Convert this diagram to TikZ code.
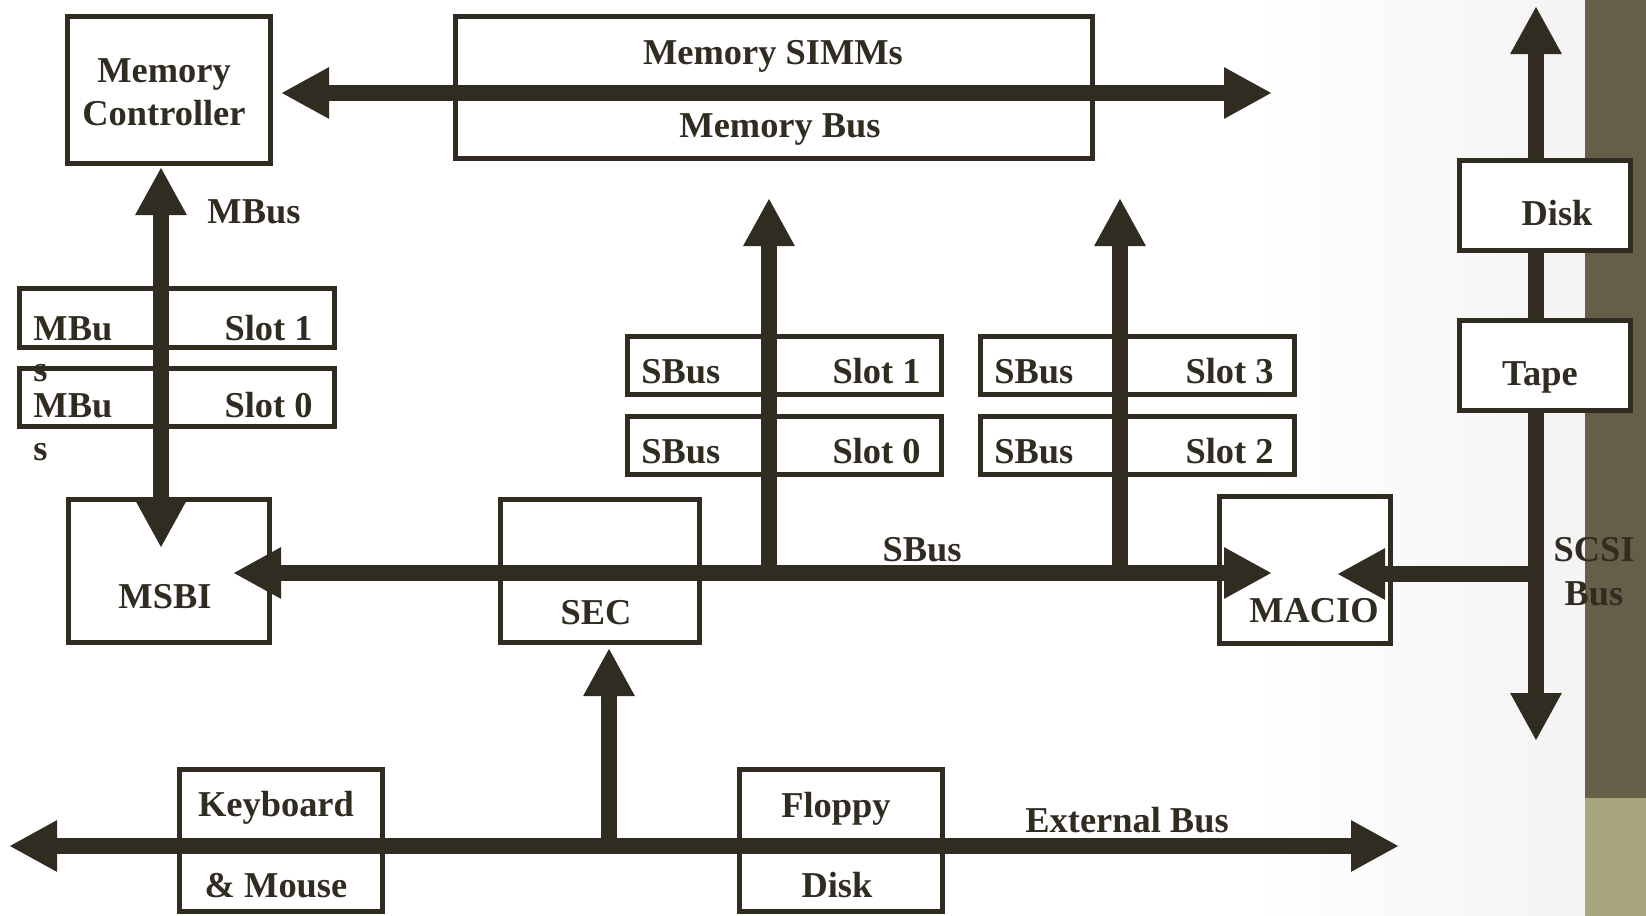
\documentclass[tikz,border=0pt]{standalone}
\usepackage{fontspec}
\setmainfont{Liberation Serif}
\usepackage{tikz}
\usetikzlibrary{arrows.meta}

\definecolor{ink}{RGB}{48,44,33}
\definecolor{barbrown}{RGB}{102,94,72}
\definecolor{barolive}{RGB}{168,166,126}

\tikzset{
	unit/.style 2 args={draw=ink, line width=2.5pt, fill=white, inner sep=0pt,
		minimum width=#1, minimum height=#2},
	txt/.style={text=ink, inner sep=0pt, font=\fontsize{18.2}{22}\selectfont\bfseries},
	bus/.style={draw=ink, line width=8pt, -{Triangle[width=24pt,length=24pt]}},
	bibus/.style={draw=ink, line width=8pt,
		{Triangle[width=24pt,length=24pt]}-{Triangle[width=24pt,length=24pt]}},
}

\begin{document}
\begin{tikzpicture}[x=0.5pt,y=-0.5pt]
	
	% page: white, soft grey towards the right, coloured side bar
	\useasboundingbox (0,0) rectangle (1646,916);
	\fill[white] (0,0) rectangle (1646,916);
	\shade[left color=white, right color=gray!9] (1250,0) rectangle (1585,916);
	\fill[barbrown] (1585,0) rectangle (1646,798);
	\fill[barolive] (1585,798) rectangle (1646,916);
	
	%%%%%%%%%%%%%%%%%%%%%%%%%%%%%%%%%%%%%%%%%%%%%%%%%%%%%%%%%%%%%%
	% boxes (centre, then size)
	\node[unit={101.5pt}{73.5pt}] (mc)     at (169,90)      {};
	\node[unit={318.5pt}{71pt}]   (simm)   at (774,87.5)    {};
	
	\node[unit={157.5pt}{29.5pt}] (mslotA) at (177,318)     {};
	\node[unit={157.5pt}{29pt}]   (mslotB) at (177,397.5)   {};
	
	\node[unit={157pt}{29pt}]     (sslotB) at (784.5,365.5) {};
	\node[unit={157pt}{29pt}]     (sslotA) at (784.5,445.5) {};
	\node[unit={157pt}{29pt}]     (sslotD) at (1137.5,365.5) {};
	\node[unit={157pt}{29pt}]     (sslotC) at (1137.5,445.5) {};
	
	\node[unit={100.5pt}{71.5pt}] (msbi)   at (169,571)     {};
	\node[unit={99.5pt}{71.5pt}]  (sec)    at (600,571)     {};
	\node[unit={85.5pt}{73.5pt}]  (macio)  at (1305,570)    {};
	
	\node[unit={101.5pt}{71pt}]   (kbd)    at (281,840.5)   {};
	\node[unit={101.5pt}{71pt}]   (floppy) at (841,840.5)   {};
	
	%%%%%%%%%%%%%%%%%%%%%%%%%%%%%%%%%%%%%%%%%%%%%%%%%%%%%%%%%%%%%%
	% bus end points
	\coordinate (memL)  at (281,93);
	\coordinate (memR)  at (1272,93);
	\coordinate (mbT)   at (161,167);
	\coordinate (mbB)   at (161,548);
	\coordinate (sbL)   at (233,573);
	\coordinate (sbR)   at (1272,573);
	\coordinate (riseA) at (769,573);
	\coordinate (tipA)  at (769,198);
	\coordinate (riseB) at (1120,573);
	\coordinate (tipB)  at (1120,198);
	\coordinate (scT)   at (1536,6);
	\coordinate (scB)   at (1536,741);
	\coordinate (scJ)   at (1536,574);
	\coordinate (scM)   at (1337,574);
	\coordinate (exL)   at (9,846);
	\coordinate (exR)   at (1399,846);
	\coordinate (exJ)   at (609,846);
	\coordinate (secT)  at (609,648);
	
	% buses
	\draw[bibus] (memL) -- (memR);
	\draw[bibus] (mbT) -- (mbB);
	\draw[bibus] (sbL) -- (sbR);
	\draw[bus] (riseA) -- (tipA);
	\draw[bus] (riseB) -- (tipB);
	\draw[bibus] (scT) -- (scB);
	\draw[bus] (scJ) -- (scM);
	\draw[bibus] (exL) -- (exR);
	\draw[bus] (exJ) -- (secT);
	
	% the SCSI devices sit on top of their bus
	\node[unit={85.5pt}{45pt}]    (disk)   at (1545,205.5)  {};
	\node[unit={85.5pt}{45pt}]    (tape)   at (1545,365.5)  {};
	
	%%%%%%%%%%%%%%%%%%%%%%%%%%%%%%%%%%%%%%%%%%%%%%%%%%%%%%%%%%%%%%
	% texts (anchored on their baselines)
	\node[txt, anchor=base] (mcA) at (164,82)  {Memory};
	\node[txt, anchor=base] (mcB) at (164,125) {Controller};
	\node[txt, anchor=base] (simmA) at (773,64)  {Memory SIMMs};
	\node[txt, anchor=base] (simmB) at (780,137) {Memory Bus};
	\node[txt, anchor=base] (mbusLbl) at (254,223) {MBus};
	
	\node[txt, anchor=base west] (mslotAa) at (33,340) {MBu};
	\node[txt, anchor=base west] (mslotAb) at (33,381) {s};
	\node[txt, anchor=base east] (mslotAc) at (313,340) {Slot 1};
	\node[txt, anchor=base west] (mslotBa) at (33,417) {MBu};
	\node[txt, anchor=base west] (mslotBb) at (33,460) {s};
	\node[txt, anchor=base east] (mslotBc) at (313,417) {Slot 0};
	
	\node[txt, anchor=base west] (sslotBa) at (641,383)  {SBus};
	\node[txt, anchor=base east] (sslotBb) at (921,383)  {Slot 1};
	\node[txt, anchor=base west] (sslotAa) at (641,463)  {SBus};
	\node[txt, anchor=base east] (sslotAb) at (921,463)  {Slot 0};
	\node[txt, anchor=base west] (sslotDa) at (994,383)  {SBus};
	\node[txt, anchor=base east] (sslotDb) at (1274,383) {Slot 3};
	\node[txt, anchor=base west] (sslotCa) at (994,463)  {SBus};
	\node[txt, anchor=base east] (sslotCb) at (1274,463) {Slot 2};
	
	\node[txt, anchor=base] (msbiLbl)  at (165,608)  {MSBI};
	\node[txt, anchor=base] (secLbl)   at (596,624)  {SEC};
	\node[txt, anchor=base] (sbusLbl)  at (922,561)  {SBus};
	\node[txt, anchor=base] (macioLbl) at (1314,622) {MACIO};
	
	\node[txt, anchor=base] (diskLbl) at (1557,225) {Disk};
	\node[txt, anchor=base] (tapeLbl) at (1540,385) {Tape};
	\node[txt, anchor=base] (scsiA)   at (1594,561) {SCSI};
	\node[txt, anchor=base] (scsiB)   at (1594,605) {Bus};
	
	\node[txt, anchor=base] (kbdA)    at (276,816) {Keyboard};
	\node[txt, anchor=base] (kbdB)    at (276,897) {\& Mouse};
	\node[txt, anchor=base] (floppyA) at (836,817) {Floppy};
	\node[txt, anchor=base] (floppyB) at (837,897) {Disk};
	\node[txt, anchor=base west] (extLbl) at (1025,832) {External Bus};
	
\end{tikzpicture}
\end{document}
